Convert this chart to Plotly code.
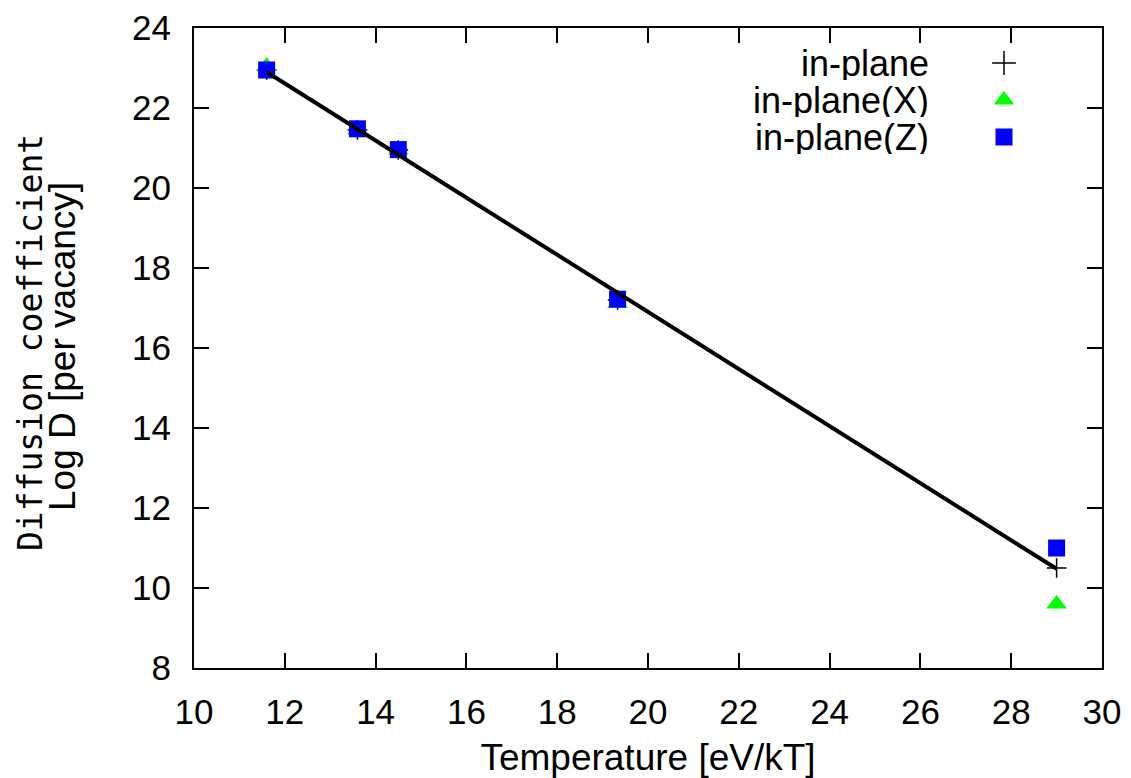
import plotly.graph_objects as go

# Inverse temperature (eV/kT) and log diffusion coefficient per vacancy
temperature = [11.6, 13.6, 14.5, 19.33, 29.0]
logd_inplane = [22.95, 21.45, 20.95, 17.2, 10.5]
logd_inplane_x = [23.05, 21.45, 20.95, 17.12, 9.6]
logd_inplane_z = [22.95, 21.48, 20.96, 17.22, 11.0]

# Straight-line fit through the in-plane data
fit_temperature = [11.6, 29.0]
fit_logd = [22.9, 10.48]

x_ticks = list(range(10, 31, 2))
y_ticks = list(range(8, 25, 2))

FONT = "Liberation Sans, Arial, sans-serif"
FS_TICK = 35
FS_TEXT = 37
FS_KEY = 36

# Plot-area geometry in pixels
W, H = 1131, 778
L, R, T, B = 194, 1102, 28, 668
PW, PH = R - L, B - T


def px(x):
    return (x - L) / PW


def py(y):
    return (B - y) / PH


fig = go.Figure()

fig.add_trace(go.Scatter(
    x=temperature, y=logd_inplane, mode="markers", name="in-plane",
    marker=dict(symbol="cross-thin", size=14, color="black",
                line=dict(color="black", width=1.5)),
    showlegend=False))
fig.add_trace(go.Scatter(
    x=temperature, y=logd_inplane_x, mode="markers", name="in-plane(X)",
    marker=dict(symbol="triangle-up", size=18, color="#00ff00", line=dict(width=0)),
    showlegend=False))
fig.add_trace(go.Scatter(
    x=temperature, y=logd_inplane_z, mode="markers", name="in-plane(Z)",
    marker=dict(symbol="square", size=17, color="#0000ff", line=dict(width=0)),
    showlegend=False))
fig.add_trace(go.Scatter(
    x=fit_temperature, y=fit_logd, mode="lines",
    line=dict(color="black", width=4), showlegend=False))

# Key: labels on the left, sample symbols on the right
key_labels = ["in-plane", "in-plane(X)", "in-plane(Z)"]
key_rows = [63, 100, 137]
key_symbols = [
    dict(symbol="cross-thin", size=17, color="black", line=dict(color="black", width=1.5)),
    dict(symbol="triangle-up", size=18, color="#00ff00", line=dict(width=0)),
    dict(symbol="square", size=17, color="#0000ff", line=dict(width=0)),
]
annotations = []
for lab, row, sym in zip(key_labels, key_rows, key_symbols):
    annotations.append(dict(
        text=lab, xref="paper", yref="paper", x=px(930), y=py(row),
        xanchor="right", yanchor="middle", showarrow=False,
        height=34, valign="middle", borderpad=0,
        font=dict(family=FONT, size=FS_KEY, color="black")))
    fig.add_trace(go.Scatter(
        x=[px(1004)], y=[py(row)], mode="markers", marker=sym,
        xaxis="x2", yaxis="y2", showlegend=False, hoverinfo="skip"))

# Two-line y-axis title
annotations.append(dict(
    text="Diffusion coefficient", xref="paper", yref="paper",
    x=px(30), y=py(343), textangle=-90, xanchor="center", yanchor="middle",
    showarrow=False,
    font=dict(family="DejaVu Sans Mono, monospace", size=33, color="black")))
annotations.append(dict(
    text="Log D [per vacancy]", xref="paper", yref="paper",
    x=px(62), y=py(347), textangle=-90, xanchor="center", yanchor="middle",
    showarrow=False, font=dict(family=FONT, size=FS_TEXT, color="black")))

axis_common = dict(
    showline=True, linecolor="black", linewidth=2, mirror="ticks",
    ticks="inside", ticklen=15, tickwidth=2, tickcolor="black",
    showgrid=False, zeroline=False, automargin=False,
    tickfont=dict(family=FONT, size=FS_TICK, color="black"),
)

fig.update_layout(
    width=W, height=H,
    margin=dict(l=L, r=W - R, t=T, b=H - B),
    paper_bgcolor="white", plot_bgcolor="white",
    xaxis=dict(range=[10, 30], tickvals=x_ticks,
               title=dict(text="Temperature [eV/kT]", standoff=18,
                          font=dict(family=FONT, size=FS_TEXT, color="black")),
               ticklabelstandoff=12, **axis_common),
    yaxis=dict(range=[8, 24], tickvals=y_ticks, ticklabelstandoff=14,
               **axis_common),
    xaxis2=dict(range=[0, 1], overlaying="x", visible=False),
    yaxis2=dict(range=[0, 1], overlaying="y", visible=False),
    annotations=annotations,
    showlegend=False,
)

fig.write_html("out.html")
